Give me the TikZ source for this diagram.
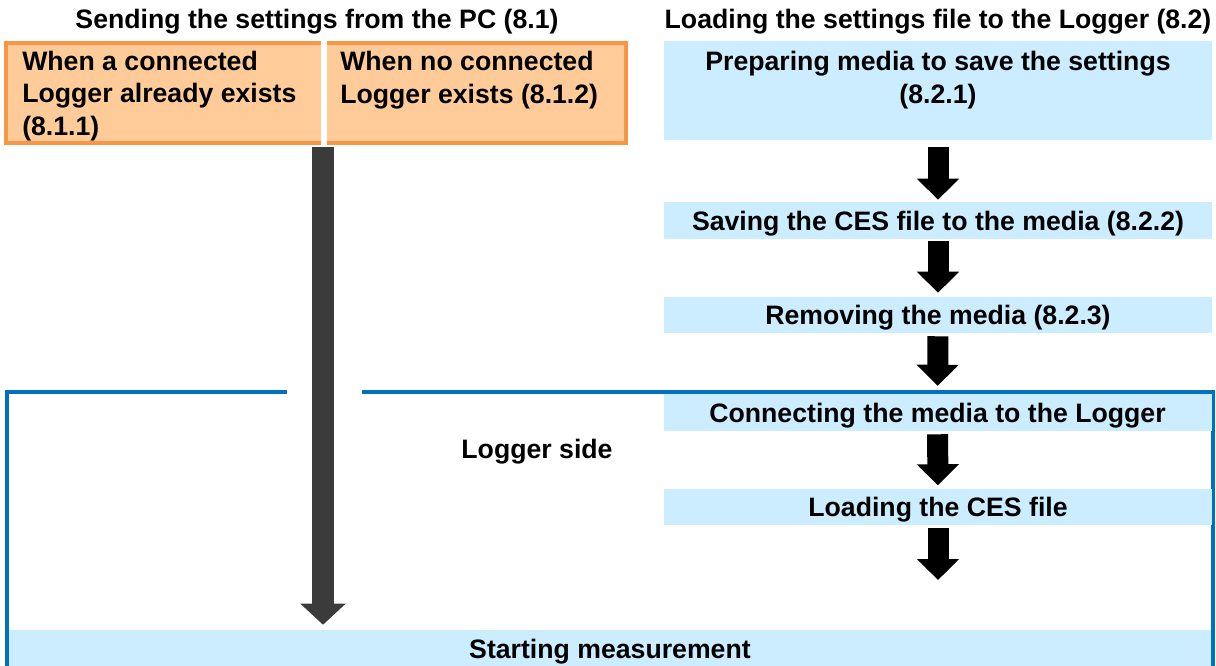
\documentclass[tikz,border=0pt]{standalone}
\usepackage{fontspec}
\setmainfont{Liberation Sans}
\usepackage{tikz}
\usetikzlibrary{arrows.meta, positioning}
\definecolor{pcorange}{RGB}{247,150,70}
\definecolor{pcfill}{RGB}{255,204,153}
\definecolor{stepblue}{RGB}{204,236,255}
\definecolor{frameblue}{RGB}{0,112,192}
\definecolor{arrowgray}{RGB}{59,59,59}
\tikzset{txt/.style={font=\fontsize{20}{24.4}\selectfont\bfseries,inner sep=0pt},
  pcbox/.style={rectangle,draw=pcorange,fill=pcfill,line width=3pt,minimum width=465pt,minimum height=75pt},
  stepbox/.style={rectangle,fill=stepblue,txt,text height=18pt,text depth=3pt,minimum width=411pt,minimum height=27pt},
  flow/.style={line width=15.75pt,-{Triangle[width=30.75pt,length=15.75pt]}},
  pcflow/.style={line width=16.5pt,draw=arrowgray,-{Triangle[width=33pt,length=15.75pt]}}}

\begin{document}
\begin{tikzpicture}[x=0.75pt,y=-0.75pt]
\useasboundingbox (0,0) rectangle (1216,666);
% headers
\node[txt] (pchead) at (317,21.5) {Sending the settings from the PC (8.1)};
\node[txt] (loghead) at (938,21.5) {Loading the settings file to the Logger (8.2)};
% PC side
\node[pcbox] (pc) at (316,93) {};
\draw[white,line width=4.5pt] (pc.north -| 324,0) -- (pc.south -| 324,0);
\node[txt, anchor=west, align=left] (pcyes) at (22,96) {When a connected\\Logger already exists\\(8.1.1)};
\node[txt, anchor=west, align=left] (pcno) at (340,80) {When no connected\\Logger exists (8.1.2)};
\coordinate (split) at (pc.south -| 323,0);
% media side
\node[stepbox, minimum height=74.25pt] (prep) at (938,90.5) {};
\node[txt, align=center] (preptext) at (938,80) {Preparing media to save the settings\\(8.2.1)};
\node[stepbox, minimum height=27.75pt] (save) at (938,220.5) {Saving the CES file to the media (8.2.2)};
\node[stepbox] (remove) at (938,315) {Removing the media (8.2.3)};
% logger side
\draw[frameblue,line width=3pt] (287,392) -- (7,392) -- (7,672) (362,392) -- (1213,392) -- (1213,672);
\node[stepbox, minimum height=27.75pt] (connect) at (937.5,412.5) {Connecting the media to the Logger};
\node[stepbox] (load) at (938,506.5) {Loading the CES file};
\coordinate (loadend) at (938,580);
\node[txt] (side) at (537,451.5) {Logger side};
\node[stepbox, minimum width=901.5pt] (start) at (610,648) {Starting measurement};
% arrows
\draw[flow, shorten <=5.25pt, shorten >=1.5pt] (prep) -- (save);
\draw[flow, shorten <=1.5pt, shorten >=3pt] (save) -- (remove);
\draw[flow, shorten <=2.25pt, shorten >=6pt] (remove) -- (connect);
\draw[flow, shorten <=2.25pt, shorten >=2.25pt] (connect) -- (load);
\draw[flow, shorten <=2.25pt] (load) -- (loadend);
\draw[pcflow, shorten <=1.5pt, shorten >=3.75pt] (split) -- (split |- start.north);
\end{tikzpicture}
\end{document}
